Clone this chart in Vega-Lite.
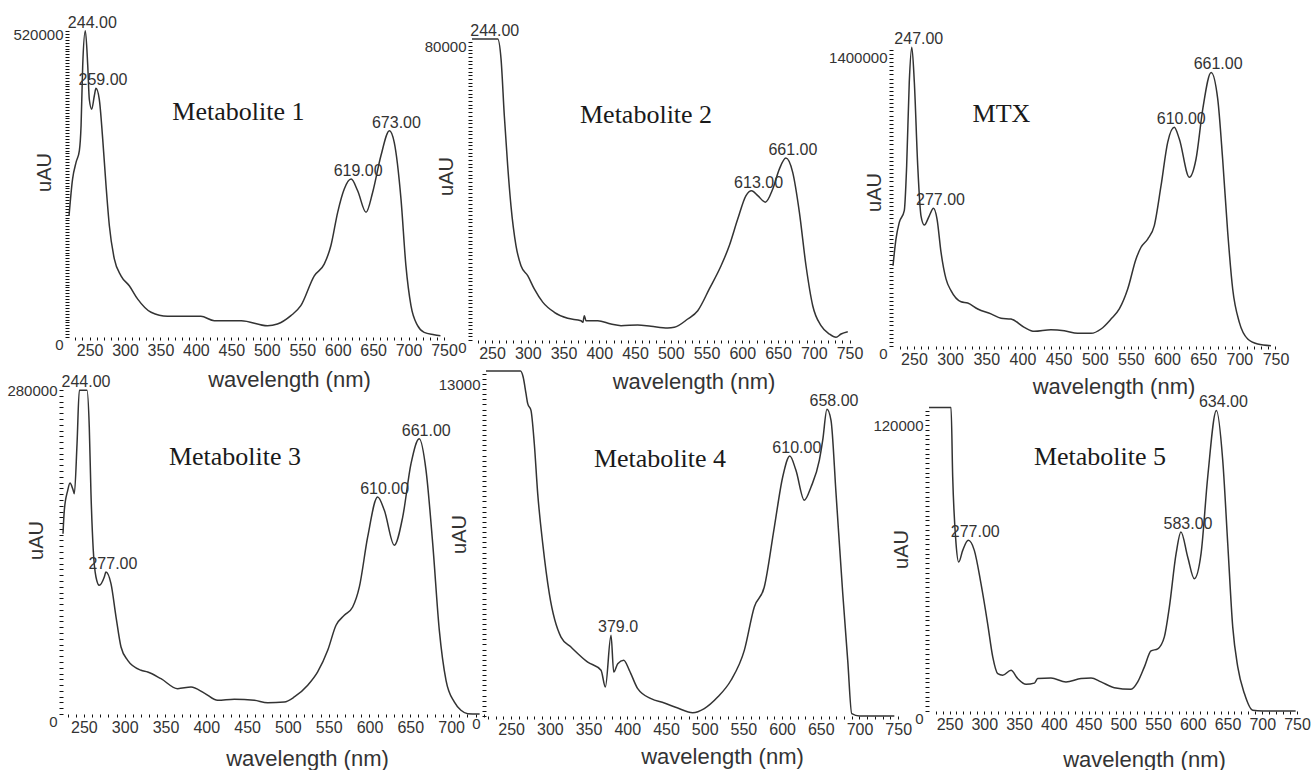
{
  "$schema": "https://vega.github.io/schema/vega-lite/v6.json",
  "background": "white",
  "padding": {"left": 6, "top": 14, "right": 0, "bottom": 0},
  "bounds": "flush",
  "spacing": 340,
  "config": {
    "view": {"stroke": null},
    "axis": {
      "grid": false, "domain": false,
      "labelFont": "Liberation Sans", "titleFont": "Liberation Sans",
      "labelColor": "#333", "titleColor": "#333", "tickColor": "#111",
      "tickSize": 3, "tickWidth": 1, "titleFontWeight": "normal",
      "labelFontSize": 16, "titleFontSize": 22, "labelPadding": 2,
      "labelFlush": false, "labelOverlap": false, "labelBound": false
    },
    "axisY": {"labelFontSize": 15, "titleFontSize": 20, "tickSize": 4}
  },
  "datasets": {
    "spectra": [
      {"panel":"m1","wl":221,"uAU":208000},{"panel":"m1","wl":226,"uAU":271000},{"panel":"m1","wl":231,"uAU":300000},{"panel":"m1","wl":235.6,"uAU":320000},{"panel":"m1","wl":238,"uAU":363000},{"panel":"m1","wl":240.3,"uAU":466000},{"panel":"m1","wl":244,"uAU":525600},{"panel":"m1","wl":247.4,"uAU":466000},{"panel":"m1","wl":249.6,"uAU":408000},{"panel":"m1","wl":253,"uAU":391000},{"panel":"m1","wl":256.7,"uAU":414000},{"panel":"m1","wl":259,"uAU":426700},{"panel":"m1","wl":263.7,"uAU":408000},{"panel":"m1","wl":268.5,"uAU":340000},{"panel":"m1","wl":273.2,"uAU":260000},{"panel":"m1","wl":277.9,"uAU":191000},{"panel":"m1","wl":284.9,"uAU":134000},{"panel":"m1","wl":294.3,"uAU":105000},{"panel":"m1","wl":306,"uAU":88000},{"panel":"m1","wl":317.9,"uAU":65000},{"panel":"m1","wl":336.7,"uAU":42400},{"panel":"m1","wl":360,"uAU":35500},{"panel":"m1","wl":407,"uAU":35500},{"panel":"m1","wl":426,"uAU":28000},{"panel":"m1","wl":464,"uAU":28000},{"panel":"m1","wl":501,"uAU":19400},{"panel":"m1","wl":515,"uAU":22300},{"panel":"m1","wl":534,"uAU":36600},{"panel":"m1","wl":548,"uAU":53700},{"panel":"m1","wl":567,"uAU":105000},{"panel":"m1","wl":581,"uAU":125000},{"panel":"m1","wl":590.5,"uAU":157000},{"panel":"m1","wl":600,"uAU":214000},{"panel":"m1","wl":609.3,"uAU":254000},{"panel":"m1","wl":619,"uAU":271000},{"panel":"m1","wl":628.2,"uAU":251000},{"panel":"m1","wl":640,"uAU":214000},{"panel":"m1","wl":649.3,"uAU":248000},{"panel":"m1","wl":661,"uAU":311000},{"panel":"m1","wl":673,"uAU":354000},{"panel":"m1","wl":679.8,"uAU":334000},{"panel":"m1","wl":689.3,"uAU":237000},{"panel":"m1","wl":696.3,"uAU":122000},{"panel":"m1","wl":703.4,"uAU":53700},{"panel":"m1","wl":712.8,"uAU":19400},{"panel":"m1","wl":722,"uAU":8000},{"panel":"m1","wl":736,"uAU":4000},{"panel":"m1","wl":745,"uAU":2000},

      {"panel":"m2","wl":222,"uAU":81900},{"panel":"m2","wl":258,"uAU":81900},{"panel":"m2","wl":262.6,"uAU":76500},{"panel":"m2","wl":267.2,"uAU":61000},{"panel":"m2","wl":271.9,"uAU":47400},{"panel":"m2","wl":276.5,"uAU":36500},{"panel":"m2","wl":283.5,"uAU":25700},{"panel":"m2","wl":290.5,"uAU":20200},{"panel":"m2","wl":299.9,"uAU":17500},{"panel":"m2","wl":309.1,"uAU":13900},{"panel":"m2","wl":320.9,"uAU":10300},{"panel":"m2","wl":337.1,"uAU":7540},{"panel":"m2","wl":355.8,"uAU":5900},{"panel":"m2","wl":374.4,"uAU":5250},{"panel":"m2","wl":377,"uAU":4800},{"panel":"m2","wl":379.1,"uAU":6610},{"panel":"m2","wl":381.4,"uAU":5250},{"panel":"m2","wl":397.8,"uAU":5250},{"panel":"m2","wl":416.4,"uAU":4350},{"panel":"m2","wl":430.4,"uAU":3900},{"panel":"m2","wl":453.7,"uAU":4080},{"panel":"m2","wl":472.3,"uAU":3720},{"panel":"m2","wl":495.7,"uAU":3270},{"panel":"m2","wl":504.9,"uAU":3450},{"panel":"m2","wl":523.7,"uAU":5710},{"panel":"m2","wl":537.7,"uAU":7980},{"panel":"m2","wl":553.9,"uAU":13900},{"panel":"m2","wl":570.3,"uAU":20200},{"panel":"m2","wl":581.9,"uAU":25700},{"panel":"m2","wl":593.6,"uAU":32900},{"panel":"m2","wl":605.2,"uAU":39300},{"panel":"m2","wl":613,"uAU":40600},{"panel":"m2","wl":621.6,"uAU":39300},{"panel":"m2","wl":632.2,"uAU":37500},{"panel":"m2","wl":642.6,"uAU":41100},{"panel":"m2","wl":651.8,"uAU":46500},{"panel":"m2","wl":661,"uAU":49500},{"panel":"m2","wl":670.5,"uAU":45600},{"panel":"m2","wl":679.8,"uAU":34800},{"panel":"m2","wl":689.1,"uAU":20200},{"panel":"m2","wl":698.5,"uAU":9330},{"panel":"m2","wl":710.1,"uAU":3890},{"panel":"m2","wl":721.7,"uAU":1630},{"panel":"m2","wl":731.1,"uAU":730},{"panel":"m2","wl":738.1,"uAU":1630},{"panel":"m2","wl":747.5,"uAU":2260},

      {"panel":"mtx","wl":221,"uAU":390000},{"panel":"mtx","wl":225.1,"uAU":520000},{"panel":"mtx","wl":229.7,"uAU":601000},{"panel":"mtx","wl":236.6,"uAU":658000},{"panel":"mtx","wl":239.9,"uAU":876000},{"panel":"mtx","wl":243.5,"uAU":1282000},{"panel":"mtx","wl":247,"uAU":1452000},{"panel":"mtx","wl":250.5,"uAU":1282000},{"panel":"mtx","wl":255.2,"uAU":876000},{"panel":"mtx","wl":259.7,"uAU":633000},{"panel":"mtx","wl":264.3,"uAU":588000},{"panel":"mtx","wl":271.2,"uAU":633000},{"panel":"mtx","wl":277,"uAU":669000},{"panel":"mtx","wl":281.9,"uAU":617000},{"panel":"mtx","wl":287.4,"uAU":456000},{"panel":"mtx","wl":294.3,"uAU":326000},{"panel":"mtx","wl":301.2,"uAU":269000},{"panel":"mtx","wl":315.1,"uAU":215000},{"panel":"mtx","wl":324.3,"uAU":209000},{"panel":"mtx","wl":338.2,"uAU":180000},{"panel":"mtx","wl":356.5,"uAU":156000},{"panel":"mtx","wl":370.4,"uAU":135000},{"panel":"mtx","wl":384.2,"uAU":131000},{"panel":"mtx","wl":402.6,"uAU":90700},{"panel":"mtx","wl":416.4,"uAU":71300},{"panel":"mtx","wl":439.5,"uAU":79400},{"panel":"mtx","wl":457.9,"uAU":74500},{"panel":"mtx","wl":476.4,"uAU":61600},{"panel":"mtx","wl":494.9,"uAU":61600},{"panel":"mtx","wl":508.7,"uAU":82600},{"panel":"mtx","wl":522.5,"uAU":131000},{"panel":"mtx","wl":534,"uAU":180000},{"panel":"mtx","wl":545.6,"uAU":277000},{"panel":"mtx","wl":557.1,"uAU":423000},{"panel":"mtx","wl":564,"uAU":480000},{"panel":"mtx","wl":573.3,"uAU":520000},{"panel":"mtx","wl":582.4,"uAU":585000},{"panel":"mtx","wl":591.7,"uAU":779000},{"panel":"mtx","wl":600.9,"uAU":990000},{"panel":"mtx","wl":610,"uAU":1063000},{"panel":"mtx","wl":617,"uAU":1006000},{"panel":"mtx","wl":630.8,"uAU":820000},{"panel":"mtx","wl":640.1,"uAU":909000},{"panel":"mtx","wl":649.4,"uAU":1152000},{"panel":"mtx","wl":661,"uAU":1330000},{"panel":"mtx","wl":670.1,"uAU":1201000},{"panel":"mtx","wl":676.9,"uAU":909000},{"panel":"mtx","wl":683.9,"uAU":553000},{"panel":"mtx","wl":690.8,"uAU":277000},{"panel":"mtx","wl":700,"uAU":115000},{"panel":"mtx","wl":711.6,"uAU":34000},{"panel":"mtx","wl":725.4,"uAU":9700},{"panel":"mtx","wl":743.8,"uAU":1500},

      {"panel":"m3","wl":224.4,"uAU":155800},{"panel":"m3","wl":226,"uAU":176000},{"panel":"m3","wl":230.2,"uAU":193300},{"panel":"m3","wl":233,"uAU":199600},{"panel":"m3","wl":236.3,"uAU":194700},{"panel":"m3","wl":238.3,"uAU":190400},{"panel":"m3","wl":241.6,"uAU":233600},{"panel":"m3","wl":244.4,"uAU":279700},{"panel":"m3","wl":253.8,"uAU":279700},{"panel":"m3","wl":256.6,"uAU":248000},{"panel":"m3","wl":258.7,"uAU":190400},{"panel":"m3","wl":261.5,"uAU":141500},{"panel":"m3","wl":264.8,"uAU":118400},{"panel":"m3","wl":268.9,"uAU":111200},{"panel":"m3","wl":275,"uAU":118400},{"panel":"m3","wl":277,"uAU":122700},{"panel":"m3","wl":283.2,"uAU":112600},{"panel":"m3","wl":289.4,"uAU":83800},{"panel":"m3","wl":295.5,"uAU":57900},{"panel":"m3","wl":303.7,"uAU":46400},{"panel":"m3","wl":320,"uAU":37800},{"panel":"m3","wl":328.2,"uAU":36300},{"panel":"m3","wl":344.5,"uAU":30500},{"panel":"m3","wl":365,"uAU":21900},{"panel":"m3","wl":381.3,"uAU":23300},{"panel":"m3","wl":397.6,"uAU":18100},{"panel":"m3","wl":414,"uAU":11800},{"panel":"m3","wl":434.3,"uAU":12700},{"panel":"m3","wl":458.9,"uAU":11800},{"panel":"m3","wl":475.2,"uAU":9800},{"panel":"m3","wl":495.6,"uAU":10400},{"panel":"m3","wl":507.9,"uAU":14700},{"panel":"m3","wl":524.3,"uAU":24800},{"panel":"m3","wl":536.5,"uAU":36300},{"panel":"m3","wl":548.8,"uAU":55000},{"panel":"m3","wl":559,"uAU":76700},{"panel":"m3","wl":569.1,"uAU":85300},{"panel":"m3","wl":579.4,"uAU":92500},{"panel":"m3","wl":587.6,"uAU":109800},{"panel":"m3","wl":597.8,"uAU":153000},{"panel":"m3","wl":610,"uAU":187500},{"panel":"m3","wl":618.2,"uAU":176000},{"panel":"m3","wl":630.4,"uAU":145800},{"panel":"m3","wl":640.7,"uAU":170200},{"panel":"m3","wl":650.9,"uAU":216300},{"panel":"m3","wl":661,"uAU":237900},{"panel":"m3","wl":669.3,"uAU":210600},{"panel":"m3","wl":677.5,"uAU":147200},{"panel":"m3","wl":685.6,"uAU":72300},{"panel":"m3","wl":693.8,"uAU":29100},{"panel":"m3","wl":703.9,"uAU":10400},{"panel":"m3","wl":712.1,"uAU":3200},{"panel":"m3","wl":720.3,"uAU":300},{"panel":"m3","wl":735,"uAU":0},

      {"panel":"m4","wl":217.5,"uAU":13510},{"panel":"m4","wl":262,"uAU":13510},{"panel":"m4","wl":265.5,"uAU":13275},{"panel":"m4","wl":269.2,"uAU":12620},{"panel":"m4","wl":271.4,"uAU":12230},{"panel":"m4","wl":275.6,"uAU":11970},{"panel":"m4","wl":279.9,"uAU":10660},{"panel":"m4","wl":284.3,"uAU":8710},{"panel":"m4","wl":290.8,"uAU":6750},{"panel":"m4","wl":299.3,"uAU":4790},{"panel":"m4","wl":314.4,"uAU":3090},{"panel":"m4","wl":327.3,"uAU":2700},{"panel":"m4","wl":348.9,"uAU":2110},{"panel":"m4","wl":366.1,"uAU":1790},{"panel":"m4","wl":371.7,"uAU":1140},{"panel":"m4","wl":379,"uAU":3160},{"panel":"m4","wl":382.5,"uAU":1720},{"panel":"m4","wl":387.7,"uAU":2050},{"panel":"m4","wl":395.4,"uAU":2180},{"panel":"m4","wl":402.7,"uAU":1790},{"panel":"m4","wl":413.5,"uAU":1070},{"panel":"m4","wl":430.7,"uAU":680},{"panel":"m4","wl":447.9,"uAU":510},{"panel":"m4","wl":465.2,"uAU":310},{"panel":"m4","wl":484.5,"uAU":130},{"panel":"m4","wl":499.5,"uAU":290},{"panel":"m4","wl":516.8,"uAU":740},{"panel":"m4","wl":534,"uAU":1400},{"panel":"m4","wl":551.2,"uAU":2570},{"panel":"m4","wl":564.1,"uAU":4270},{"panel":"m4","wl":577,"uAU":5050},{"panel":"m4","wl":590,"uAU":7400},{"panel":"m4","wl":600.8,"uAU":9360},{"panel":"m4","wl":610,"uAU":10180},{"panel":"m4","wl":617.9,"uAU":9620},{"panel":"m4","wl":628.7,"uAU":8450},{"panel":"m4","wl":637.4,"uAU":8970},{"panel":"m4","wl":648.1,"uAU":10010},{"panel":"m4","wl":652.5,"uAU":10800},{"panel":"m4","wl":658,"uAU":12010},{"panel":"m4","wl":663.2,"uAU":11580},{"panel":"m4","wl":669.7,"uAU":8710},{"panel":"m4","wl":678.4,"uAU":4790},{"panel":"m4","wl":684.8,"uAU":2180},{"panel":"m4","wl":690,"uAU":90},{"panel":"m4","wl":700,"uAU":0},{"panel":"m4","wl":745,"uAU":0},

      {"panel":"m5","wl":220.5,"uAU":127300},{"panel":"m5","wl":252.2,"uAU":127300},{"panel":"m5","wl":254.6,"uAU":98200},{"panel":"m5","wl":259.4,"uAU":70200},{"panel":"m5","wl":263.2,"uAU":62500},{"panel":"m5","wl":269,"uAU":67400},{"panel":"m5","wl":277,"uAU":71600},{"panel":"m5","wl":285.7,"uAU":67400},{"panel":"m5","wl":295.3,"uAU":53400},{"panel":"m5","wl":304.9,"uAU":36600},{"panel":"m5","wl":312.2,"uAU":22700},{"panel":"m5","wl":319.4,"uAU":15650},{"panel":"m5","wl":326.5,"uAU":15000},{"panel":"m5","wl":338.5,"uAU":17100},{"panel":"m5","wl":348.1,"uAU":13600},{"panel":"m5","wl":360.1,"uAU":11200},{"panel":"m5","wl":372.1,"uAU":11700},{"panel":"m5","wl":376.9,"uAU":13600},{"panel":"m5","wl":396,"uAU":13800},{"panel":"m5","wl":417.6,"uAU":12200},{"panel":"m5","wl":439.2,"uAU":13600},{"panel":"m5","wl":453.6,"uAU":13800},{"panel":"m5","wl":468,"uAU":12200},{"panel":"m5","wl":487.1,"uAU":9800},{"panel":"m5","wl":511.2,"uAU":9100},{"panel":"m5","wl":520.8,"uAU":12200},{"panel":"m5","wl":530.4,"uAU":18500},{"panel":"m5","wl":539.9,"uAU":25200},{"panel":"m5","wl":549.6,"uAU":26100},{"panel":"m5","wl":559.1,"uAU":31100},{"panel":"m5","wl":566.3,"uAU":43600},{"panel":"m5","wl":576,"uAU":66000},{"panel":"m5","wl":583,"uAU":75100},{"panel":"m5","wl":592.7,"uAU":64600},{"panel":"m5","wl":602.2,"uAU":55500},{"panel":"m5","wl":611.9,"uAU":66000},{"panel":"m5","wl":621.5,"uAU":98200},{"panel":"m5","wl":634,"uAU":126100},{"panel":"m5","wl":643.1,"uAU":105200},{"panel":"m5","wl":650.3,"uAU":70200},{"panel":"m5","wl":657.5,"uAU":35200},{"panel":"m5","wl":664.7,"uAU":18500},{"panel":"m5","wl":674.3,"uAU":7300},{"panel":"m5","wl":686.2,"uAU":300},{"panel":"m5","wl":700,"uAU":0},{"panel":"m5","wl":748,"uAU":0}
    ],
    "peaks": [
      {"panel":"m1","wl":244,"uAU":525600,"label":"244.00"},{"panel":"m1","wl":259,"uAU":426700,"label":"259.00"},{"panel":"m1","wl":619,"uAU":271000,"label":"619.00"},{"panel":"m1","wl":673,"uAU":354000,"label":"673.00"},
      {"panel":"m2","wl":244,"uAU":81900,"label":"244.00"},{"panel":"m2","wl":613,"uAU":40600,"label":"613.00"},{"panel":"m2","wl":661,"uAU":49500,"label":"661.00"},
      {"panel":"mtx","wl":247,"uAU":1452000,"label":"247.00"},{"panel":"mtx","wl":277,"uAU":669000,"label":"277.00"},{"panel":"mtx","wl":610,"uAU":1063000,"label":"610.00"},{"panel":"mtx","wl":661,"uAU":1330000,"label":"661.00"},
      {"panel":"m3","wl":244,"uAU":279700,"label":"244.00"},{"panel":"m3","wl":277,"uAU":122700,"label":"277.00"},{"panel":"m3","wl":610,"uAU":187500,"label":"610.00"},{"panel":"m3","wl":661,"uAU":237900,"label":"661.00"},
      {"panel":"m4","wl":379,"uAU":3160,"label":"379.0"},{"panel":"m4","wl":610,"uAU":10180,"label":"610.00"},{"panel":"m4","wl":658,"uAU":12010,"label":"658.00"},
      {"panel":"m5","wl":277,"uAU":71600,"label":"277.00"},{"panel":"m5","wl":583,"uAU":75100,"label":"583.00"},{"panel":"m5","wl":634,"uAU":126100,"label":"634.00"}
    ],
    "names": [
      {"panel":"m1","wl":460,"uAU":372400,"name":"Metabolite 1"},
      {"panel":"m2","wl":465.4,"uAU":59050,"name":"Metabolite 2"},
      {"panel":"mtx","wl":371,"uAU":1090300,"name":"MTX"},
      {"panel":"m3","wl":435.2,"uAU":214900,"name":"Metabolite 3"},
      {"panel":"m4","wl":442.3,"uAU":9750,"name":"Metabolite 4"},
      {"panel":"m5","wl":466.5,"uAU":103100,"name":"Metabolite 5"}
    ]
  },
  "vconcat": [
    {
      "bounds": "flush",
      "spacing": 28,
      "hconcat": [
        {
          "width": 381, "height": 308,
          "encoding": {
            "x": {"field": "wl", "type": "quantitative", "scale": {"domain": [212.5, 750], "nice": false, "zero": false},
              "axis": {"tickCount": 55, "labelDx": 4,
                "labelExpr": "datum.value % 50 == 0 && datum.value >= 250 && datum.value <= 750 ? datum.label : ''",
                "tickOpacity": {"condition": {"test": "datum.value < 221 || datum.value > 750", "value": 0}, "value": 1},
                "title": "wavelength  (nm)", "titleX": 226, "titleY": 49.5, "titleBaseline": "alphabetic", "titleAlign": "center"}},
            "y": {"field": "uAU", "type": "quantitative", "scale": {"domain": [0, 528600], "nice": false},
              "axis": {"tickCount": 100, "offset": -6,
                "labelExpr": "datum.value == 0 ? '0' : datum.value == 520000 ? '520000' : ''",
                "labelBaseline": {"condition": {"test": "datum.value == 0", "value": "top"}, "value": "middle"},
                "title": "uAU", "titleX": -24.5, "titleY": 143, "titleAngle": 270, "titleBaseline": "middle", "titleAlign": "center"}}
          },
          "layer": [
            {"data": {"name": "spectra"}, "transform": [{"filter": "datum.panel == 'm1'"}],
             "mark": {"type": "line", "color": "#333", "strokeWidth": 1.5, "interpolate": "monotone"}},
            {"data": {"name": "peaks"}, "transform": [{"filter": "datum.panel == 'm1'"}],
             "mark": {"type": "text", "font": "Liberation Sans", "fontSize": 16, "color": "#333", "dx": 7, "dy": -3, "baseline": "alphabetic", "align": "center"},
             "encoding": {"text": {"field": "label"}}},
            {"data": {"name": "names"}, "transform": [{"filter": "datum.panel == 'm1'"}],
             "mark": {"type": "text", "font": "Liberation Serif", "fontSize": 26, "color": "#1a1a1a", "baseline": "alphabetic", "align": "center"},
             "encoding": {"text": {"field": "name"}}},
            {"data": {"values": [{}]}, "mark": {"type": "rule", "color": "#1a1a1a", "strokeWidth": 1.6},
             "encoding": {"x": {"datum": 221}, "y": {"datum": 0}, "y2": {"datum": 528600}}},
            {"data": {"values": [{}]}, "mark": {"type": "rule", "color": "#1a1a1a", "strokeWidth": 1.6},
             "encoding": {"x": {"datum": 221}, "x2": {"datum": 750}, "y": {"datum": 0}}}
          ]
        },
        {
          "width": 393, "height": 311,
          "encoding": {
            "x": {"field": "wl", "type": "quantitative", "scale": {"domain": [222, 771.6], "nice": false, "zero": false},
              "axis": {"tickCount": 55, "labelDx": 4,
                "labelExpr": "datum.value % 50 == 0 && datum.value >= 250 && datum.value <= 750 ? datum.label : ''",
                "tickOpacity": {"condition": {"test": "datum.value < 222 || datum.value > 752", "value": 0}, "value": 1},
                "title": "wavelength  (nm)", "titleX": 221.5, "titleY": 48, "titleBaseline": "alphabetic", "titleAlign": "center"}},
            "y": {"field": "uAU", "type": "quantitative", "scale": {"domain": [0, 84626], "nice": false},
              "axis": {"tickCount": 80,
                "labelExpr": "datum.value == 0 ? '0' : datum.value == 80000 ? '80000' : ''",
                "labelBaseline": {"condition": {"test": "datum.value == 0", "value": "top"}, "value": "middle"},
                "tickOpacity": {"condition": {"test": "datum.value > 81905", "value": 0}, "value": 1},
                "title": "uAU", "titleX": -26, "titleY": 147, "titleAngle": 270, "titleBaseline": "middle", "titleAlign": "center"}}
          },
          "layer": [
            {"data": {"name": "spectra"}, "transform": [{"filter": "datum.panel == 'm2'"}],
             "mark": {"type": "line", "color": "#333", "strokeWidth": 1.5, "interpolate": "monotone"}},
            {"data": {"name": "peaks"}, "transform": [{"filter": "datum.panel == 'm2'"}],
             "mark": {"type": "text", "font": "Liberation Sans", "fontSize": 16, "color": "#333", "dx": 7, "dy": -3, "baseline": "alphabetic", "align": "center"},
             "encoding": {"text": {"field": "label"}}},
            {"data": {"name": "names"}, "transform": [{"filter": "datum.panel == 'm2'"}],
             "mark": {"type": "text", "font": "Liberation Serif", "fontSize": 26, "color": "#1a1a1a", "baseline": "alphabetic", "align": "center"},
             "encoding": {"text": {"field": "name"}}},
            {"data": {"values": [{}]}, "mark": {"type": "rule", "color": "#1a1a1a", "strokeWidth": 1.6},
             "encoding": {"x": {"datum": 222}, "y": {"datum": 0}, "y2": {"datum": 81905}}},
            {"data": {"values": [{}]}, "mark": {"type": "rule", "color": "#1a1a1a", "strokeWidth": 1.6},
             "encoding": {"x": {"datum": 222}, "x2": {"datum": 752}, "y": {"datum": 0}}}
          ]
        },
        {
          "width": 383, "height": 317,
          "encoding": {
            "x": {"field": "wl", "type": "quantitative", "scale": {"domain": [221, 750.7], "nice": false, "zero": false},
              "axis": {"tickCount": 55, "labelDx": 3,
                "labelExpr": "datum.value % 50 == 0 && datum.value >= 250 && datum.value <= 750 ? datum.label : ''",
                "tickOpacity": {"condition": {"test": "datum.value < 221 || datum.value > 751", "value": 0}, "value": 1},
                "title": "wavelength  (nm)", "titleX": 220.5, "titleY": 47, "titleBaseline": "alphabetic", "titleAlign": "center"}},
            "y": {"field": "uAU", "type": "quantitative", "scale": {"domain": [0, 1540900], "nice": false},
              "axis": {"tickCount": 80,
                "labelExpr": "datum.value == 0 ? '0' : datum.value == 1400000 ? '1400000' : ''",
                "labelBaseline": {"condition": {"test": "datum.value == 0", "value": "top"}, "value": "middle"},
                "tickOpacity": {"condition": {"test": "datum.value > 1458300", "value": 0}, "value": 1},
                "title": "uAU", "titleX": -18.5, "titleY": 163, "titleAngle": 270, "titleBaseline": "middle", "titleAlign": "center"}}
          },
          "layer": [
            {"data": {"name": "spectra"}, "transform": [{"filter": "datum.panel == 'mtx'"}],
             "mark": {"type": "line", "color": "#333", "strokeWidth": 1.5, "interpolate": "monotone"}},
            {"data": {"name": "peaks"}, "transform": [{"filter": "datum.panel == 'mtx'"}],
             "mark": {"type": "text", "font": "Liberation Sans", "fontSize": 16, "color": "#333", "dx": 7, "dy": -3, "baseline": "alphabetic", "align": "center"},
             "encoding": {"text": {"field": "label"}}},
            {"data": {"name": "names"}, "transform": [{"filter": "datum.panel == 'mtx'"}],
             "mark": {"type": "text", "font": "Liberation Serif", "fontSize": 26, "color": "#1a1a1a", "baseline": "alphabetic", "align": "center"},
             "encoding": {"text": {"field": "name"}}},
            {"data": {"values": [{}]}, "mark": {"type": "rule", "color": "#1a1a1a", "strokeWidth": 1.6},
             "encoding": {"x": {"datum": 221}, "y": {"datum": 0}, "y2": {"datum": 1458300}}},
            {"data": {"values": [{}]}, "mark": {"type": "rule", "color": "#1a1a1a", "strokeWidth": 1.6},
             "encoding": {"x": {"datum": 221}, "x2": {"datum": 750.7}, "y": {"datum": 0}}}
          ]
        }
      ]
    },
    {
      "bounds": "flush",
      "spacing": 0,
      "hconcat": [
        {
          "width": 423, "height": 345,
          "encoding": {
            "x": {"field": "wl", "type": "quantitative", "scale": {"domain": [224.4, 742.8], "nice": false, "zero": false},
              "axis": {"tickCount": 55, "labelDx": 4,
                "labelExpr": "datum.value % 50 == 0 && datum.value >= 250 && datum.value <= 750 ? datum.label : ''",
                "tickOpacity": {"condition": {"test": "datum.value < 224 || datum.value > 743", "value": 0}, "value": 1},
                "title": "wavelength  (nm)", "titleX": 244, "titleY": 51, "titleBaseline": "alphabetic", "titleAlign": "center"}},
            "y": {"field": "uAU", "type": "quantitative", "scale": {"domain": [0, 298150], "nice": false},
              "axis": {"tickCount": 60,
                "labelExpr": "datum.value == 0 ? '0' : datum.value == 280000 ? '280000' : ''",
                "labelBaseline": {"condition": {"test": "datum.value == 0", "value": "top"}, "value": "middle"},
                "tickOpacity": {"condition": {"test": "datum.value > 282600", "value": 0}, "value": 1},
                "title": "uAU", "titleX": -26.5, "titleY": 171, "titleAngle": 270, "titleBaseline": "middle", "titleAlign": "center"}}
          },
          "layer": [
            {"data": {"name": "spectra"}, "transform": [{"filter": "datum.panel == 'm3'"}],
             "mark": {"type": "line", "color": "#333", "strokeWidth": 1.5, "interpolate": "monotone"}},
            {"data": {"name": "peaks"}, "transform": [{"filter": "datum.panel == 'm3'"}],
             "mark": {"type": "text", "font": "Liberation Sans", "fontSize": 16, "color": "#333", "dx": 7, "dy": -3, "baseline": "alphabetic", "align": "center"},
             "encoding": {"text": {"field": "label"}}},
            {"data": {"name": "names"}, "transform": [{"filter": "datum.panel == 'm3'"}],
             "mark": {"type": "text", "font": "Liberation Serif", "fontSize": 26, "color": "#1a1a1a", "baseline": "alphabetic", "align": "center"},
             "encoding": {"text": {"field": "name"}}},
            {"data": {"values": [{}]}, "mark": {"type": "rule", "color": "#1a1a1a", "strokeWidth": 1.6},
             "encoding": {"x": {"datum": 224.4}, "y": {"datum": 0}, "y2": {"datum": 282600}}},
            {"data": {"values": [{}]}, "mark": {"type": "rule", "color": "#1a1a1a", "strokeWidth": 1.6},
             "encoding": {"x": {"datum": 224.4}, "x2": {"datum": 742.8}, "y": {"datum": 0}}}
          ]
        },
        {
          "width": 443, "height": 347,
          "encoding": {
            "x": {"field": "wl", "type": "quantitative", "scale": {"domain": [217.5, 789.8], "nice": false, "zero": false},
              "axis": {"tickCount": 55, "labelDx": 3,
                "labelExpr": "datum.value % 50 == 0 && datum.value >= 250 && datum.value <= 750 ? datum.label : ''",
                "tickOpacity": {"condition": {"test": "datum.value < 217 || datum.value > 750", "value": 0}, "value": 1},
                "title": "wavelength  (nm)", "titleX": 236, "titleY": 47, "titleBaseline": "alphabetic", "titleAlign": "center"}},
            "y": {"field": "uAU", "type": "quantitative", "scale": {"domain": [0, 13588], "nice": false},
              "axis": {"tickCount": 70,
                "labelExpr": "datum.value == 0 ? '0' : datum.value == 13000 ? '13000' : ''",
                "labelBaseline": {"condition": {"test": "datum.value == 0", "value": "top"}, "value": "middle"},
                "title": "uAU", "titleX": -26.5, "titleY": 165, "titleAngle": 270, "titleBaseline": "middle", "titleAlign": "center"}}
          },
          "layer": [
            {"data": {"name": "spectra"}, "transform": [{"filter": "datum.panel == 'm4'"}],
             "mark": {"type": "line", "color": "#333", "strokeWidth": 1.5, "interpolate": "monotone"}},
            {"data": {"name": "peaks"}, "transform": [{"filter": "datum.panel == 'm4'"}],
             "mark": {"type": "text", "font": "Liberation Sans", "fontSize": 16, "color": "#333", "dx": 7, "dy": -3, "baseline": "alphabetic", "align": "center"},
             "encoding": {"text": {"field": "label"}}},
            {"data": {"name": "names"}, "transform": [{"filter": "datum.panel == 'm4'"}],
             "mark": {"type": "text", "font": "Liberation Serif", "fontSize": 26, "color": "#1a1a1a", "baseline": "alphabetic", "align": "center"},
             "encoding": {"text": {"field": "name"}}},
            {"data": {"values": [{}]}, "mark": {"type": "rule", "color": "#1a1a1a", "strokeWidth": 1.6},
             "encoding": {"x": {"datum": 217.5}, "y": {"datum": 0}, "y2": {"datum": 13588}}},
            {"data": {"values": [{}]}, "mark": {"type": "rule", "color": "#1a1a1a", "strokeWidth": 1.6},
             "encoding": {"x": {"datum": 217.5}, "x2": {"datum": 748.7}, "y": {"datum": 0}}}
          ]
        },
        {
          "width": 372, "height": 342,
          "encoding": {
            "x": {"field": "wl", "type": "quantitative", "scale": {"domain": [220.5, 755.7], "nice": false, "zero": false},
              "axis": {"tickCount": 55, "labelDx": 3,
                "labelExpr": "datum.value % 50 == 0 && datum.value >= 250 && datum.value <= 750 ? datum.label : ''",
                "tickOpacity": {"condition": {"test": "datum.value < 220 || datum.value > 750", "value": 0}, "value": 1},
                "title": "wavelength  (nm)", "titleX": 215, "titleY": 55, "titleBaseline": "alphabetic", "titleAlign": "center"}},
            "y": {"field": "uAU", "type": "quantitative", "scale": {"domain": [0, 143500], "nice": false},
              "axis": {"tickCount": 70,
                "labelExpr": "datum.value == 0 ? '0' : datum.value == 120000 ? '120000' : ''",
                "labelBaseline": {"condition": {"test": "datum.value == 0", "value": "top"}, "value": "middle"},
                "tickOpacity": {"condition": {"test": "datum.value > 127560", "value": 0}, "value": 1},
                "title": "uAU", "titleX": -27.5, "titleY": 180, "titleAngle": 270, "titleBaseline": "middle", "titleAlign": "center"}}
          },
          "layer": [
            {"data": {"name": "spectra"}, "transform": [{"filter": "datum.panel == 'm5'"}],
             "mark": {"type": "line", "color": "#333", "strokeWidth": 1.5, "interpolate": "monotone"}},
            {"data": {"name": "peaks"}, "transform": [{"filter": "datum.panel == 'm5'"}],
             "mark": {"type": "text", "font": "Liberation Sans", "fontSize": 16, "color": "#333", "dx": 7, "dy": -3, "baseline": "alphabetic", "align": "center"},
             "encoding": {"text": {"field": "label"}}},
            {"data": {"name": "names"}, "transform": [{"filter": "datum.panel == 'm5'"}],
             "mark": {"type": "text", "font": "Liberation Serif", "fontSize": 26, "color": "#1a1a1a", "baseline": "alphabetic", "align": "center"},
             "encoding": {"text": {"field": "name"}}},
            {"data": {"values": [{}]}, "mark": {"type": "rule", "color": "#1a1a1a", "strokeWidth": 1.6},
             "encoding": {"x": {"datum": 220.5}, "y": {"datum": 0}, "y2": {"datum": 127560}}},
            {"data": {"values": [{}]}, "mark": {"type": "rule", "color": "#1a1a1a", "strokeWidth": 1.6},
             "encoding": {"x": {"datum": 220.5}, "x2": {"datum": 750}, "y": {"datum": 0}}}
          ]
        }
      ]
    }
  ]
}
